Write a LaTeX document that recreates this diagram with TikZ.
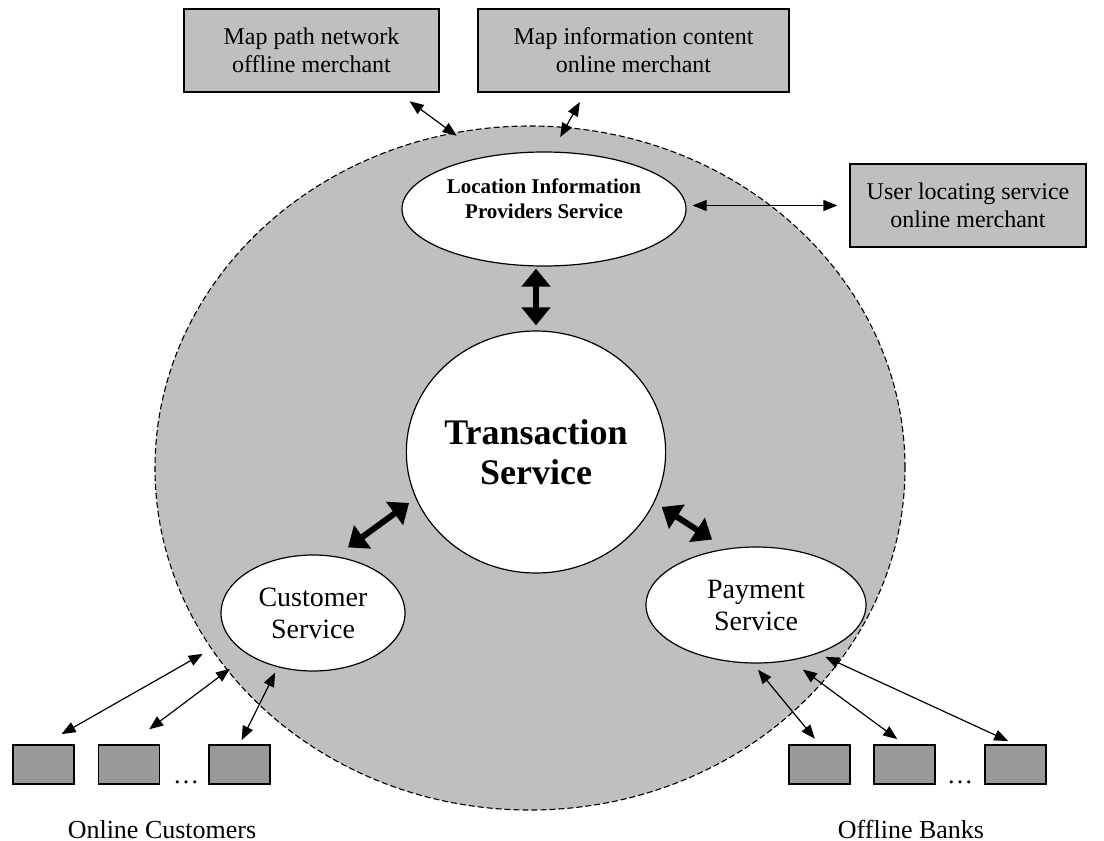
\documentclass[tikz,border=0pt]{standalone}
\usepackage{fontspec}
\setmainfont{Liberation Serif}
\usetikzlibrary{shapes.geometric,arrows.meta,calc}

\tikzset{
  zone/.style={ellipse, draw, dash pattern=on 3pt off 1.5pt, fill=black!25, line width=0.55pt,
    minimum width=375pt, minimum height=342pt, inner sep=0pt},
  svc/.style={ellipse, draw, fill=white, line width=0.6pt, inner sep=0pt, align=center},
  party/.style={rectangle, draw, fill=black!25, line width=0.6pt, align=center,
    font=\fontsize{12}{14}\selectfont, minimum height=41.5pt, inner sep=0pt},
  cell/.style={rectangle, draw, fill=black!40, line width=0.6pt,
    minimum width=30.5pt, minimum height=19.5pt, inner sep=0pt},
  link/.style={{Triangle[length=7pt,width=5.5pt]}-{Triangle[length=7pt,width=5.5pt]}, line width=0.6pt},
  biglink/.style={{Triangle[length=9pt,width=14pt]}-{Triangle[length=9pt,width=14pt]}, line width=3pt},
  caption/.style={font=\fontsize{13}{15}\selectfont, anchor=base},
}

\begin{document}
\begin{tikzpicture}[x=0.5pt, y=-0.5pt]
  \useasboundingbox (0,0) rectangle (1104,841);

  % grey zone holding the services
  \node[zone] (zone) at (530,468) {};

  % services
  \node[svc, minimum width=142pt, minimum height=57pt] (lip) at (544,209) {};
  \node[font=\fontsize{10.5}{12.5}\selectfont\bfseries, align=center] (liptext) at (544,199)
    {Location Information\\Providers Service};
  \node[svc, minimum width=129pt, minimum height=121pt, font=\fontsize{18}{20}\selectfont\bfseries]
    (ts) at (536,452) {Transaction\\Service};
  \node[svc, minimum width=92pt, minimum height=58pt, font=\fontsize{14}{16}\selectfont]
    (cust) at (313,613) {Customer\\Service};
  \node[svc, minimum width=110pt, minimum height=58pt, font=\fontsize{14}{16}\selectfont]
    (pay) at (756,605) {Payment\\Service};

  % merchants
  \node[party, minimum width=127.5pt] (mpath) at (311.5,50.5) {Map path network\\offline merchant};
  \node[party, minimum width=155.5pt] (minfo) at (633.5,50.5) {Map information content\\online merchant};
  \node[party, minimum width=118pt] (uloc) at (968,205.5) {User locating service\\online merchant};

  % customers and banks
  \foreach \n/\x in {1/43.5, 2/129, 3/239.5}
    \node[cell] (c\n) at (\x,764.5) {};
  \foreach \n/\x in {1/819.5, 2/904.5, 3/1015.5}
    \node[cell] (b\n) at (\x,764.5) {};
  \node[caption] (cdots) at (186,783) {\dots};
  \node[caption] (bdots) at (960,783) {\dots};
  \node[caption] (custlabel) at (162,838) {Online Customers};
  \node[caption] (banklabel) at (911,838) {Offline Banks};

  % links to the transaction service
  \draw[biglink, shorten <=1pt, shorten >=2.5pt] (ts.north |- lip.south) -- (ts.north);
  \draw[biglink, shorten <=7.5pt, shorten >=4pt] (cust.68.8) -- (ts.201.2);
  \draw[biglink, shorten <=4.3pt, shorten >=8.3pt] (ts.337.3) -- (pay.118.4);

  % merchants
  \draw[link, shorten <=7.3pt, shorten >=-2.5pt] (mpath.-26.3) -- (zone.103.6);
  \draw[link, shorten <=5.4pt, shorten >=-5.75pt] (minfo.221) -- (zone.84.5);
  \draw[link, shorten <=3pt, shorten >=6pt] (uloc.west -| lip.east) -- (uloc.west);

  % customers
  \draw[link, shorten <=10.4pt, shorten >=15.5pt] (c1.north) -- (cust.197.6);
  \draw[link, shorten <=12.6pt, shorten >=11.5pt] (c2.north) -- (cust.213.7);
  \draw[link, shorten <=2.4pt, shorten >=3pt] (c3.north) -- (cust.237.4);

  % banks
  \draw[link, shorten <=3.7pt, shorten >=4pt] (b1.north) -- (pay.267);
  \draw[link, shorten <=4.5pt, shorten >=7.5pt] (b2.north) -- (pay.302);
  \draw[link, shorten <=4pt, shorten >=4pt] (b3.north) -- (pay.322.7);
\end{tikzpicture}
\end{document}
